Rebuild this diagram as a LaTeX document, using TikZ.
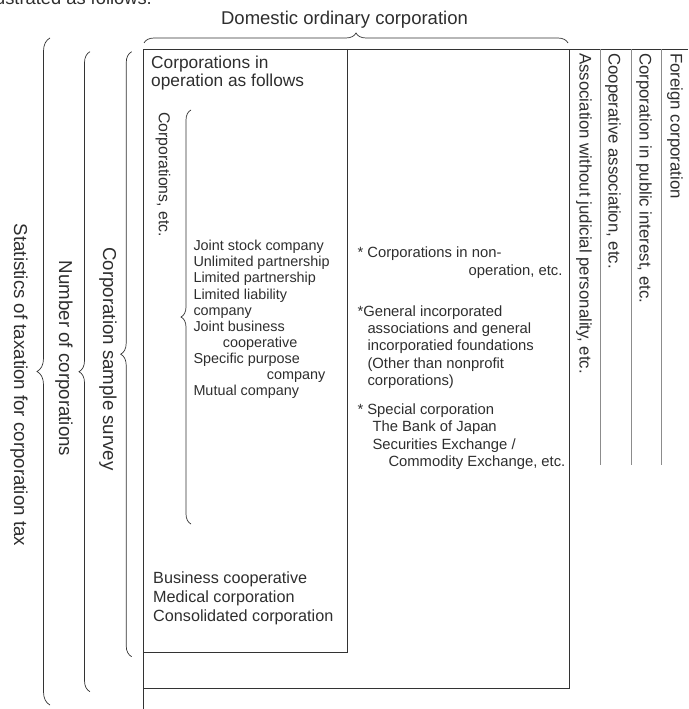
\documentclass[tikz,border=0pt]{standalone}
\usepackage{fontspec}
\setmainfont{Liberation Sans}
\usetikzlibrary{decorations.pathreplacing}
\begin{document}
\begin{tikzpicture}[x=1pt,y=-1pt,
  frame/.style={draw=black!80, line width=0.8pt},
  colline/.style={draw=black!45, line width=0.7pt},
  bracel/.style={draw=black!80, line width=0.7pt, decorate, decoration={brace, amplitude=#1}},
  txt/.style={inner sep=0pt, text=black!82},
  big/.style={txt, font=\fontsize{18.7}{22}\selectfont},
  head/.style={txt, font=\fontsize{18.5}{22}\selectfont},
  mid/.style={txt, font=\fontsize{17.3}{20}\selectfont},
  bot/.style={txt, font=\fontsize{16.2}{19}\selectfont},
  lst/.style={txt, font=\fontsize{14.4}{16}\selectfont, anchor=base west},
  rtx/.style={txt, font=\fontsize{14.8}{17}\selectfont, anchor=base west},
  coltxt/.style={txt, font=\fontsize{16.8}{19}\selectfont, rotate=-90, anchor=west},
  vlabel/.style={big, rotate=-90, anchor=center}]
\useasboundingbox (0,0) rectangle (688,709);
\clip (0,0) rectangle (688,709);

% cut-off sentence at the top
\node[txt, font=\fontsize{18.3}{22}\selectfont, anchor=base east] (intro) at (152,5) {illustrated as follows.};

% heading and top brace
\node[head, anchor=base] (dom) at (344.5,25) {Domestic ordinary corporation};
\coordinate (tbL) at (144,43);
\coordinate (tbR) at (568,43);
\draw[bracel=10pt] (tbL) -- (tbR);

% frames
\draw[frame] (143,49) rectangle (569,688);
\draw[frame] (143,688) -- (143,709);
\draw[frame] (569,49) -- (688,49);
\draw[frame] (347,49) -- (347,652) -- (143,652);
\draw[colline] (600,49) -- (600,465);
\draw[colline] (631,49) -- (631,465);
\draw[colline] (661.5,49) -- (661.5,465);

% right-hand columns
\node[coltxt] (c1) at (584,53) {Association without judicial personality, etc.};
\node[coltxt] (c2) at (613,53) {Cooperative association, etc.};
\node[coltxt] (c3) at (644,53) {Corporation in public interest, etc.};
\node[coltxt] (c4) at (675,53) {Foreign corporation};

% left braces and labels
\coordinate (b1b) at (50,705);   \coordinate (b1t) at (50,38);
\coordinate (b2b) at (90,691.7); \coordinate (b2t) at (90,51.7);
\coordinate (b3b) at (131.7,656.7); \coordinate (b3t) at (131.7,51.7);
\draw[bracel=13pt] (b1b) -- (b1t);
\draw[bracel=11pt] (b2b) -- (b2t);
\draw[bracel=11pt] (b3b) -- (b3t);
\node[vlabel] (stat) at (19,385) {Statistics of taxation for corporation tax};
\node[vlabel] (num) at (64,358.5) {Number of corporations};
\node[vlabel] (samp) at (108,359) {Corporation sample survey};

% inner box contents
\node[mid, anchor=base west] (op1) at (151,68) {Corporations in};
\node[mid, anchor=base west] (op2) at (151,86) {operation as follows};
\node[txt, font=\fontsize{15.8}{18}\selectfont, rotate=-90, anchor=west] (etc) at (163,112) {Corporations, etc.};
\coordinate (lbb) at (191,524); \coordinate (lbt) at (191,110);
\draw[bracel=10pt] (lbb) -- (lbt);

\node[lst] (l0) at (193.3,250.7) {Joint stock company};
\node[lst] (l1) at (193.3,266.8) {Unlimited partnership};
\node[lst] (l2) at (193.3,282.9) {Limited partnership};
\node[lst] (l3) at (193.3,299.0) {Limited liability};
\node[lst] (l4) at (193.3,315.1) {company};
\node[lst] (l5) at (193.3,331.2) {Joint business};
\node[lst] (l6) at (222.7,347.3) {cooperative};
\node[lst] (l7) at (193.3,363.4) {Specific purpose};
\node[lst] (l8) at (266.7,379.5) {company};
\node[lst] (l9) at (193.3,395.6) {Mutual company};

\node[bot, anchor=base west] (bc1) at (153,583) {Business cooperative};
\node[bot, anchor=base west] (bc2) at (153,602) {Medical corporation};
\node[bot, anchor=base west] (bc3) at (153,621) {Consolidated corporation};

% middle column text
\node[rtx] (r1) at (357.3,257.3) {* Corporations in non-};
\node[rtx, anchor=base east] (r2) at (562.7,275) {operation, etc.};
\node[rtx] (r3) at (357.3,316) {*General incorporated};
\node[rtx] (r4) at (367.3,333.3) {associations and general};
\node[rtx] (r5) at (367.3,350.7) {incorporatied foundations};
\node[rtx] (r6) at (367.3,368.3) {(Other than nonprofit};
\node[rtx] (r7) at (367.3,385.7) {corporations)};
\node[rtx] (r8) at (357.3,414) {* Special corporation};
\node[rtx] (r9) at (372.3,431.7) {The Bank of Japan};
\node[rtx] (r10) at (372.3,449) {Securities Exchange /};
\node[rtx] (r11) at (388.3,466.7) {Commodity Exchange, etc.};
\end{tikzpicture}
\end{document}
